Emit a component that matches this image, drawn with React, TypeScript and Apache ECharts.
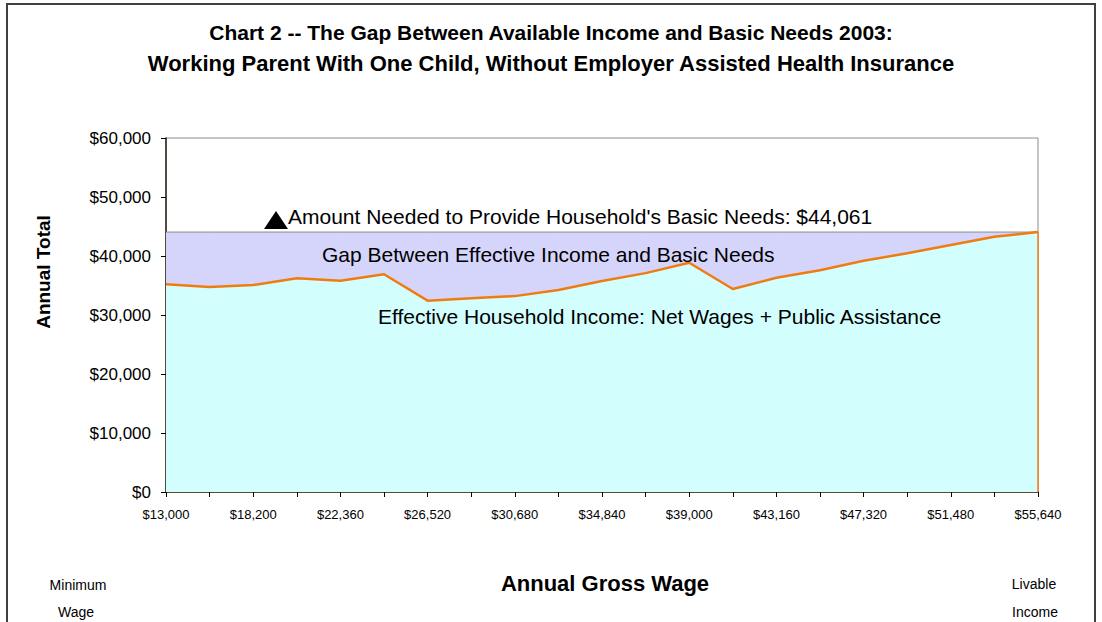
import React, { useEffect, useRef } from "react";
import * as echarts from "echarts";

const categories = [
  "$13,000", "$15,600", "$18,200", "$20,280", "$22,360", "$24,440", "$26,520",
  "$28,600", "$30,680", "$32,760", "$34,840", "$36,920", "$39,000", "$41,080",
  "$43,160", "$45,240", "$47,320", "$49,400", "$51,480", "$53,560", "$55,640",
];

const effectiveIncome = [
  35200, 34750, 35080, 36220, 35820, 36900, 32430,
  32830, 33200, 34240, 35760, 37100, 38860, 34400,
  36300, 37600, 39200, 40450, 41850, 43250, 44061,
];

const basicNeedsLevel = 44061;
const basicNeeds = categories.map(() => basicNeedsLevel);

const yTicks = { min: 0, max: 60000, interval: 10000 };

const titleLines = [
  "Chart 2 -- The Gap Between Available Income and Basic Needs 2003:",
  "Working Parent With One Child, Without Employer Assisted Health Insurance",
];

const FONT = "'Liberation Sans', Arial, sans-serif";

function fmtDollar(v: number) {
  return "$" + v.toLocaleString("en-US");
}

function txt(x: number, y: number, text: string, size: number, opts: any = {}) {
  return {
    type: "text",
    x,
    y,
    rotation: opts.rotation || 0,
    style: {
      text,
      fontSize: size,
      fontWeight: opts.bold ? "bold" : "normal",
      fontFamily: FONT,
      fill: "#000",
      align: opts.align || "left",
      verticalAlign: "middle",
    },
    z: 100,
    silent: true,
  };
}

export default function App() {
  const ref = useRef<HTMLDivElement>(null);
  useEffect(() => {
    if (!ref.current) return;
    const chart = echarts.init(ref.current, undefined, { renderer: "svg" });
    const last = categories.length - 1;
    chart.setOption({
      animation: false,
      backgroundColor: "#ffffff",
      textStyle: { fontFamily: FONT },
      grid: {
        left: 166,
        right: 64,
        top: 138,
        bottom: 130,
        show: true,
        borderColor: "#8c8c8c",
        borderWidth: 1,
        backgroundColor: "#ffffff",
      },
      xAxis: {
        type: "category",
        data: categories,
        boundaryGap: false,
        axisLine: { show: true, lineStyle: { color: "#5c4a30", width: 2 } },
        axisTick: {
          show: true,
          interval: 0,
          length: 5,
          lineStyle: { color: "#000", width: 1 },
        },
        axisLabel: {
          interval: 1,
          fontSize: 13,
          color: "#000",
          margin: 16,
          fontFamily: FONT,
        },
        splitLine: { show: false },
      },
      yAxis: {
        type: "value",
        min: yTicks.min,
        max: yTicks.max,
        interval: yTicks.interval,
        axisLine: { show: true, lineStyle: { color: "#2a2010", width: 1.5 } },
        axisTick: { show: true, length: 5, lineStyle: { color: "#000" } },
        axisLabel: {
          fontSize: 17,
          color: "#000",
          margin: 15,
          fontFamily: FONT,
          formatter: (v: number) => fmtDollar(v),
        },
        splitLine: { show: false },
      },
      series: [
        {
          name: "Basic Needs",
          type: "line",
          data: basicNeeds,
          symbol: "none",
          lineStyle: { color: "#8c8c8c", width: 1 },
          areaStyle: { color: "#d5d5fb", opacity: 1 },
          z: 2,
        },
        {
          name: "Effective Household Income",
          type: "line",
          data: effectiveIncome,
          symbol: "none",
          lineStyle: { color: "#f07c10", width: 2.5 },
          areaStyle: { color: "#d3fefe", opacity: 1 },
          z: 3,
          markLine: {
            silent: true,
            symbol: "none",
            label: { show: false },
            lineStyle: { color: "#f07c10", width: 1.5, type: "solid" },
            data: [
              [
                { coord: [categories[last], 0] },
                { coord: [categories[last], effectiveIncome[last]] },
              ],
            ],
          },
        },
      ],
      graphic: [
        {
          type: "rect",
          shape: { x: 7, y: 4, width: 1088, height: 700 },
          style: { fill: "none", stroke: "#404040", lineWidth: 2 },
          z: 100,
          silent: true,
        },
        {
          type: "polygon",
          shape: { points: [[264, 229], [288, 229], [276, 211]] },
          style: { fill: "#000" },
          z: 100,
          silent: true,
        },
        txt(551, 32, titleLines[0], 21, { bold: true, align: "center" }),
        txt(551, 63, titleLines[1], 22, { bold: true, align: "center" }),
        txt(288, 216, "Amount Needed to Provide Household's Basic Needs: $44,061", 21),
        txt(322, 254, "Gap Between Effective Income and Basic Needs", 21),
        txt(378, 316, "Effective Household Income: Net Wages + Public Assistance", 21),
        txt(43, 272, "Annual Total", 19, { bold: true, align: "center", rotation: Math.PI / 2 }),
        txt(605, 583, "Annual Gross Wage", 22, { bold: true, align: "center" }),
        txt(78, 585, "Minimum", 14, { align: "center" }),
        txt(76, 612, "Wage", 14, { align: "center" }),
        txt(1034, 584, "Livable", 14, { align: "center" }),
        txt(1035, 612, "Income", 14, { align: "center" }),
      ],
    });
    return () => chart.dispose();
  }, []);
  return <div ref={ref} style={{ width: 1102, height: 622, position: "absolute", left: 0, top: 0 }} />;
}
